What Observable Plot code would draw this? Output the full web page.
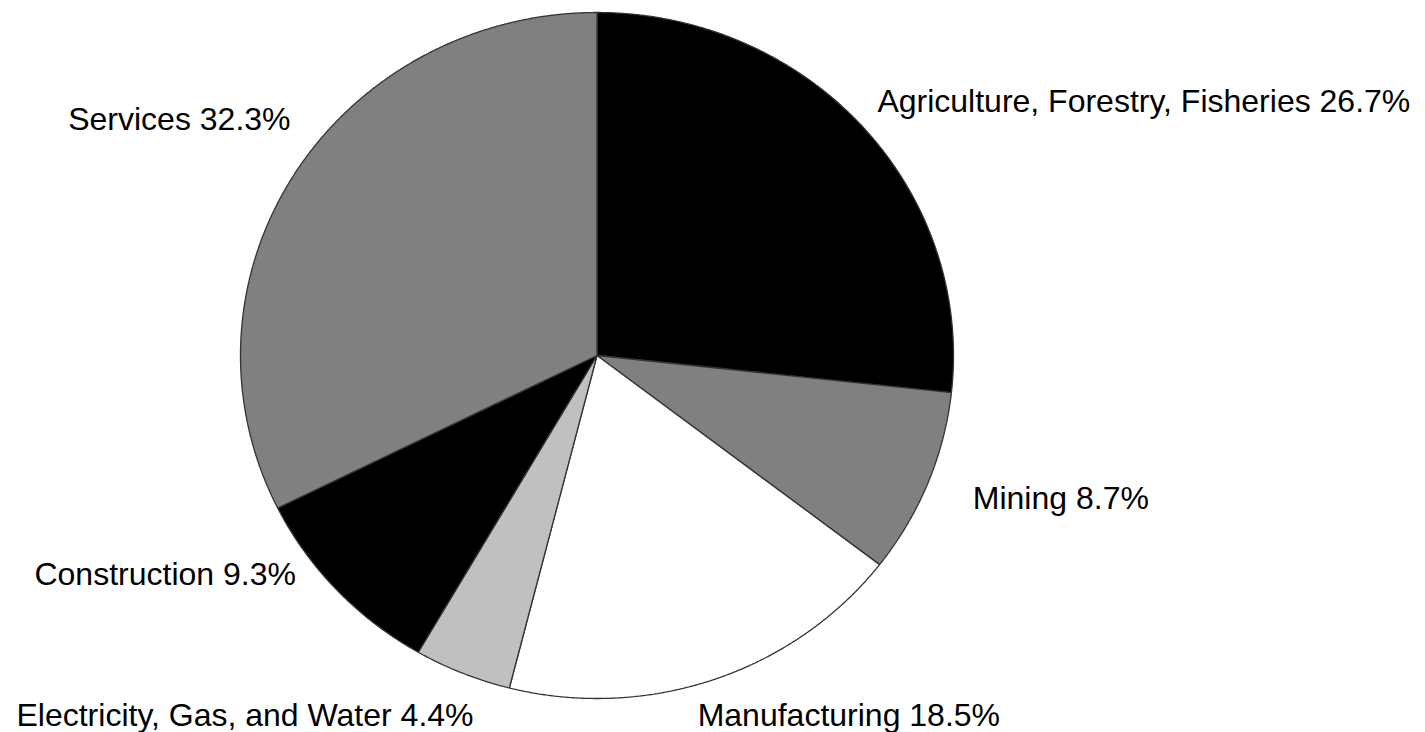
<!DOCTYPE html>
<html>
<head>
<meta charset="utf-8">
<script src="https://cdn.jsdelivr.net/npm/d3@7"></script>
<script src="https://cdn.jsdelivr.net/npm/@observablehq/plot@0.6"></script>
<style>
  html, body { margin: 0; padding: 0; background: #fff; }
  #chart svg { display: block; }
</style>
</head>
<body>
<div id="chart"></div>
<script>
// ---- data ----
const categories = [
  "Agriculture, Forestry, Fisheries",
  "Mining",
  "Manufacturing",
  "Electricity, Gas, and Water",
  "Construction",
  "Services"
];
const shares = [26.7, 8.7, 18.5, 4.4, 9.3, 32.3];
const sliceColors = ["#000000", "#808080", "#ffffff", "#c0c0c0", "#000000", "#808080"];

// ---- layout (styles / positions, not data) ----
const W = 1425, H = 732;
const cx = 596.5, cy = 355, rx = 356.5, ry = 343;
// pixel offsets of each label from the slice's outer mid-point, and anchor
const labelLayout = [
  {dx: 15, dy: -25, anchor: "start"},
  {dx: 45, dy: 15, anchor: "start"},
  {dx: -16, dy: 36, anchor: "start"},
  {dx: 11, dy: 43, anchor: "end"},
  {dx: -41, dy: -15, anchor: "end"},
  {dx: -3.5, dy: -55, anchor: "end"}
];

const total = d3.sum(shares);
const ends = d3.cumsum(shares);
const TAU = Math.PI * 2;

const polys = [];
const labels = [];
categories.forEach((name, i) => {
  const a0 = ((ends[i] - shares[i]) / total) * TAU;
  const a1 = (ends[i] / total) * TAU;
  const n = Math.max(2, Math.ceil((a1 - a0) / (TAU / 1440)));
  polys.push({name, color: sliceColors[i], x: 0, y: 0});
  for (let k = 0; k <= n; k++) {
    const a = a0 + (a1 - a0) * k / n;
    polys.push({name, color: sliceColors[i], x: Math.sin(a), y: Math.cos(a)});
  }
  const am = (a0 + a1) / 2;
  const L = labelLayout[i];
  labels.push({
    text: `${name} ${shares[i]}%`,
    anchor: L.anchor,
    x: Math.sin(am) + L.dx / rx,
    y: Math.cos(am) - L.dy / ry
  });
});

const font = "'Liberation Sans', Arial, Helvetica, sans-serif";

const chart = Plot.plot({
  width: W,
  height: H,
  margin: 0,
  x: {domain: [-1, 1], range: [cx - rx, cx + rx], axis: null},
  y: {domain: [-1, 1], range: [cy + ry, cy - ry], axis: null},
  color: {type: "identity"},
  style: {fontFamily: font, background: "#fff"},
  marks: [
    Plot.line(polys, {
      x: "x", y: "y", z: "name",
      fill: "color",
      stroke: "#333333",
      strokeWidth: 1.3,
      curve: "linear-closed",
      strokeLinejoin: "miter"
    }),
    Plot.text(labels.filter(d => d.anchor === "start"), {
      x: "x", y: "y", text: "text",
      textAnchor: "start", lineAnchor: "middle",
      fontSize: 32, fill: "#000", fontFamily: font
    }),
    Plot.text(labels.filter(d => d.anchor === "end"), {
      x: "x", y: "y", text: "text",
      textAnchor: "end", lineAnchor: "middle",
      fontSize: 32, fill: "#000", fontFamily: font
    })
  ]
});
document.getElementById("chart").appendChild(chart);
</script>
</body>
</html>
